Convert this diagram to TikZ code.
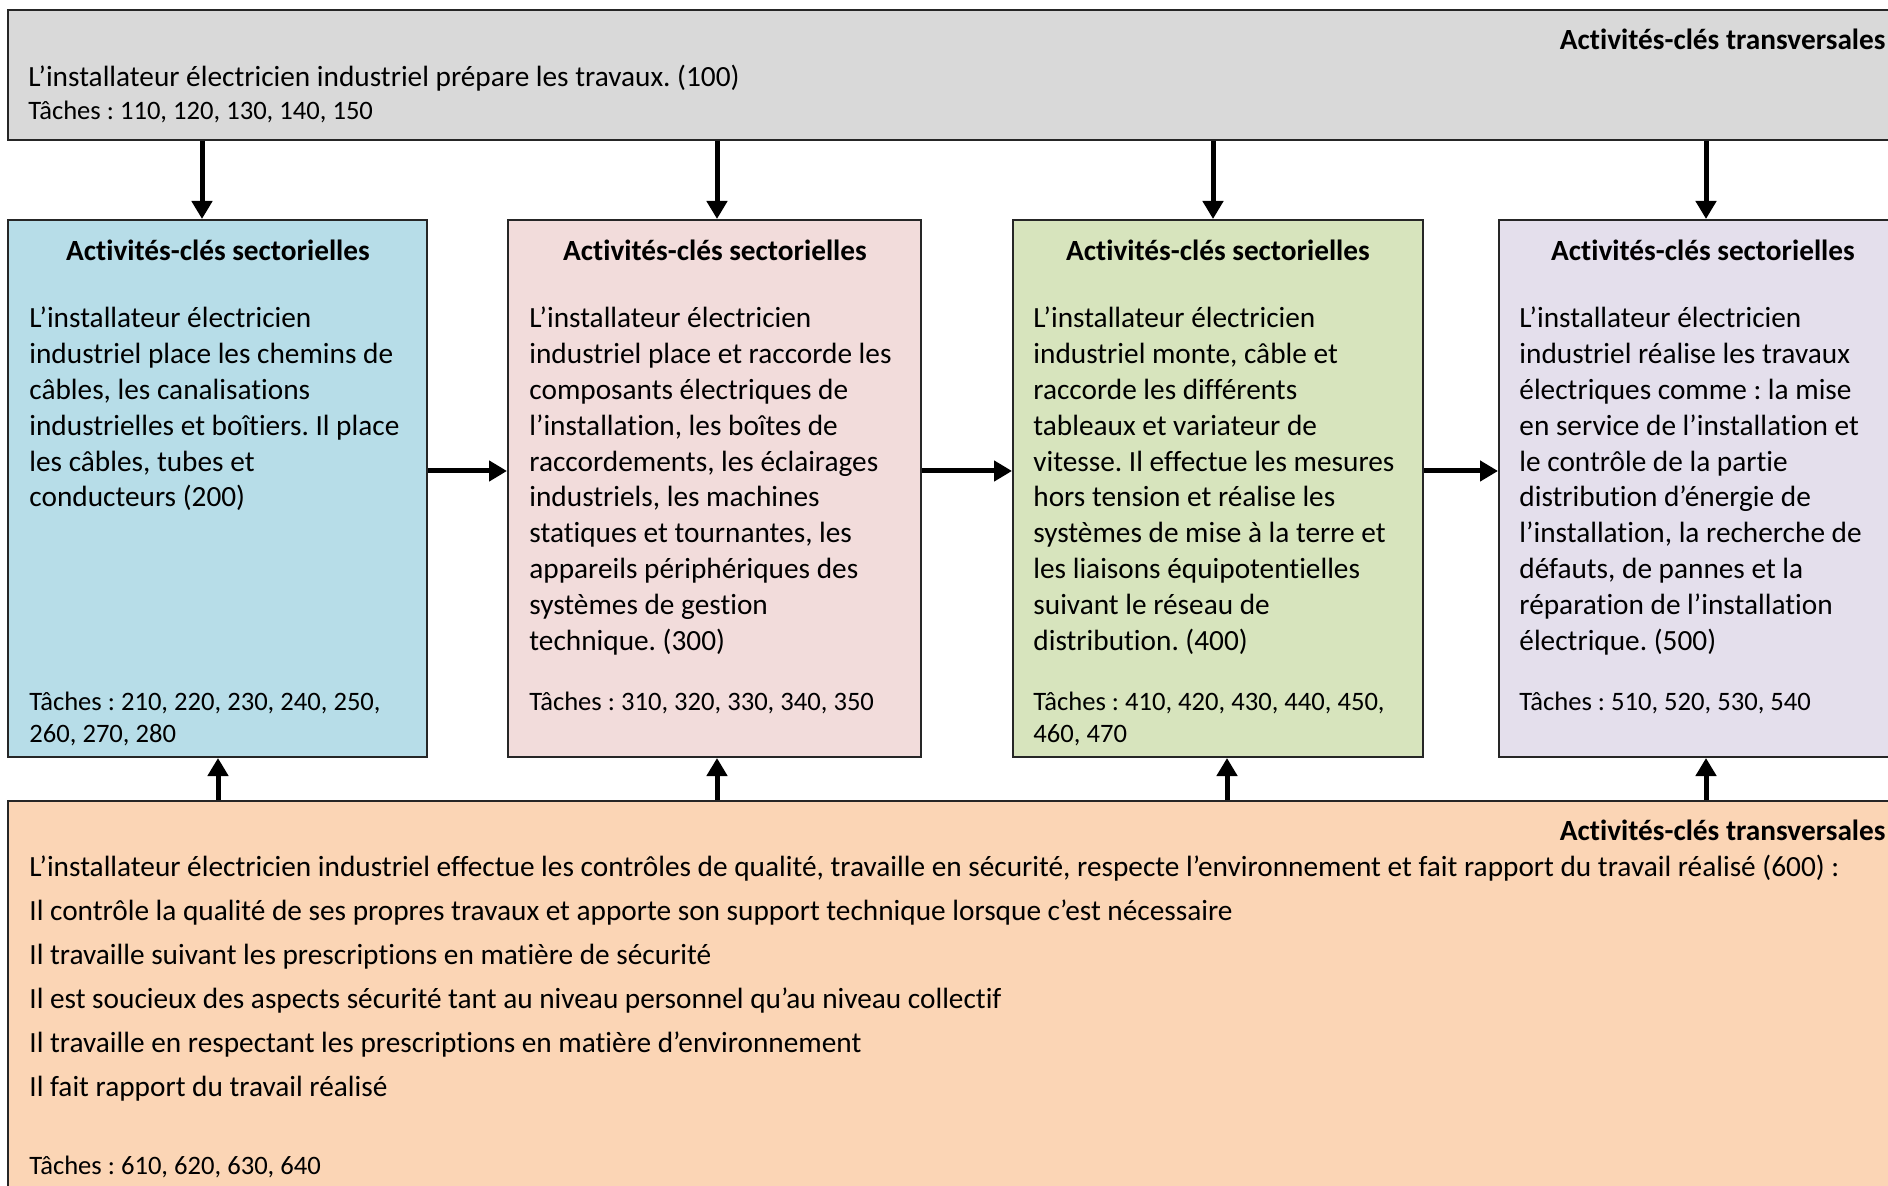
\documentclass[tikz,border=0pt]{standalone}
\usepackage{fontspec}
\setmainfont{Carlito}[Ligatures=NoCommon]
\usetikzlibrary{arrows.meta,fit}
\definecolor{cgray}{HTML}{D9D9D9}
\definecolor{cblue}{HTML}{B7DDE8}
\definecolor{cpink}{HTML}{F2DCDB}
\definecolor{cgreen}{HTML}{D7E4BD}
\definecolor{cpurple}{HTML}{E4DFEC}
\definecolor{corange}{HTML}{FBD5B5}
\frenchspacing
\newcommand\mainf{\fontsize{14.65}{17.9}\selectfont}
\newcommand\smallf{\fontsize{13.3}{16.25}\selectfont}
\newcommand\plines[1]{\parbox[t]{200pt}{\raggedright #1}}
\tikzset{
  box/.style={draw=black!85, line width=1pt, inner sep=0pt, rectangle},
  arr/.style={line width=2.5pt, -{Triangle[length=9pt,width=10pt]}},
  body/.style={anchor=base west, inner sep=0pt, font=\mainf},
  small/.style={anchor=base west, inner sep=0pt, font=\smallf},
  head/.style={anchor=base, inner sep=0pt, font=\mainf\bfseries},
  headr/.style={anchor=base east, inner sep=0pt, font=\mainf\bfseries},
}
\begin{document}
\begin{tikzpicture}[x=0.5pt,y=-0.5pt]
\clip (0,0) rectangle (1888,1186);
\fill[white] (0,0) rectangle (1888,1186);
% boxes
\node[box, fill=cgray, fit={(8,10)(1910,140)}] (top) {};
\node[box, fill=cblue, fit={(8,220)(427,757)}] (b1) {};
\node[box, fill=cpink, fit={(508,220)(921,757)}] (b2) {};
\node[box, fill=cgreen, fit={(1013,220)(1423,757)}] (b3) {};
\node[box, fill=cpurple, fit={(1499,220)(1910,757)}] (b4) {};
\node[box, fill=corange, fit={(8,801)(1910,1210)}] (bot) {};
% top texts
\node[headr] (toph) at (1886,50) {Activités-clés transversales};
\node[body] (topt) at (28,87) {L’installateur électricien industriel prépare les travaux. (100)};
\node[small] (topk) at (28,120) {Tâches : 110, 120, 130, 140, 150};
% sector headings
\node[head] (h1) at (218,261) {Activités-clés sectorielles};
\node[head] (h2) at (715,261) {Activités-clés sectorielles};
\node[head] (h3) at (1218,261) {Activités-clés sectorielles};
\node[head] (h4) at (1703,261) {Activités-clés sectorielles};
% sector bodies
\node[body] (t1) at (29,328) {\plines{L’installateur électricien\\industriel place les chemins de\\câbles, les canalisations\\industrielles et boîtiers. Il place\\les câbles, tubes et\\conducteurs (200)}};
\node[body] (t2) at (529,328) {\plines{L’installateur électricien\\industriel place et raccorde les\\composants électriques de\\l’installation, les boîtes de\\raccordements, les éclairages\\industriels, les machines\\statiques et tournantes, les\\appareils périphériques des\\systèmes de gestion\\technique. (300)}};
\node[body] (t3) at (1033,328) {\plines{L’installateur électricien\\industriel monte, câble et\\raccorde les différents\\tableaux et variateur de\\vitesse. Il effectue les mesures\\hors tension et réalise les\\systèmes de mise à la terre et\\les liaisons équipotentielles\\suivant le réseau de\\distribution. (400)}};
\node[body] (t4) at (1519,328) {\plines{L’installateur électricien\\industriel réalise les travaux\\électriques comme : la mise\\en service de l’installation et\\le contrôle de la partie\\distribution d’énergie de\\l’installation, la recherche de\\défauts, de pannes et la\\réparation de l’installation\\électrique. (500)}};
% tasks
\node[small] (k1) at (29,710) {\parbox[t]{200pt}{\raggedright Tâches : 210, 220, 230, 240, 250,\\260, 270, 280}};
\node[small] (k2) at (529,710) {Tâches : 310, 320, 330, 340, 350};
\node[small] (k3) at (1033,710) {\parbox[t]{200pt}{\raggedright Tâches : 410, 420, 430, 440, 450,\\460, 470}};
\node[small] (k4) at (1519,710) {Tâches : 510, 520, 530, 540};
% bottom texts
\node[headr] (both) at (1886,840) {Activités-clés transversales};
\node[body] (l1) at (29,876) {L’installateur électricien industriel effectue les contrôles de qualité, travaille en sécurité, respecte l’environnement et fait rapport du travail réalisé (600) :};
\node[body] (l2) at (29,920) {Il contrôle la qualité de ses propres travaux et apporte son support technique lorsque c’est nécessaire};
\node[body] (l3) at (29,964) {Il travaille suivant les prescriptions en matière de sécurité};
\node[body] (l4) at (29,1008) {Il est soucieux des aspects sécurité tant au niveau personnel qu’au niveau collectif};
\node[body] (l5) at (29,1052) {Il travaille en respectant les prescriptions en matière d’environnement};
\node[body] (l6) at (29,1096) {Il fait rapport du travail réalisé};
\node[small] (bk) at (29,1174) {Tâches : 610, 620, 630, 640};
% arrow coordinates
\coordinate (a1) at (202,0);
\coordinate (a2) at (717,0);
\coordinate (a3) at (1213,0);
\coordinate (a4) at (1706,0);
\coordinate (u1) at (218,0);
\coordinate (u2) at (717,0);
\coordinate (u3) at (1227,0);
\coordinate (u4) at (1706,0);
\coordinate (hy) at (0,471);
% arrows
\draw[arr] (top.south -| a1) -- (b1.north -| a1);
\draw[arr] (top.south -| a2) -- (b2.north -| a2);
\draw[arr] (top.south -| a3) -- (b3.north -| a3);
\draw[arr] (top.south -| a4) -- (b4.north -| a4);
\draw[arr] (bot.north -| u1) -- (b1.south -| u1);
\draw[arr] (bot.north -| u2) -- (b2.south -| u2);
\draw[arr] (bot.north -| u3) -- (b3.south -| u3);
\draw[arr] (bot.north -| u4) -- (b4.south -| u4);
\draw[arr] (b1.east |- hy) -- (b2.west |- hy);
\draw[arr] (b2.east |- hy) -- (b3.west |- hy);
\draw[arr] (b3.east |- hy) -- (b4.west |- hy);
\end{tikzpicture}
\end{document}
